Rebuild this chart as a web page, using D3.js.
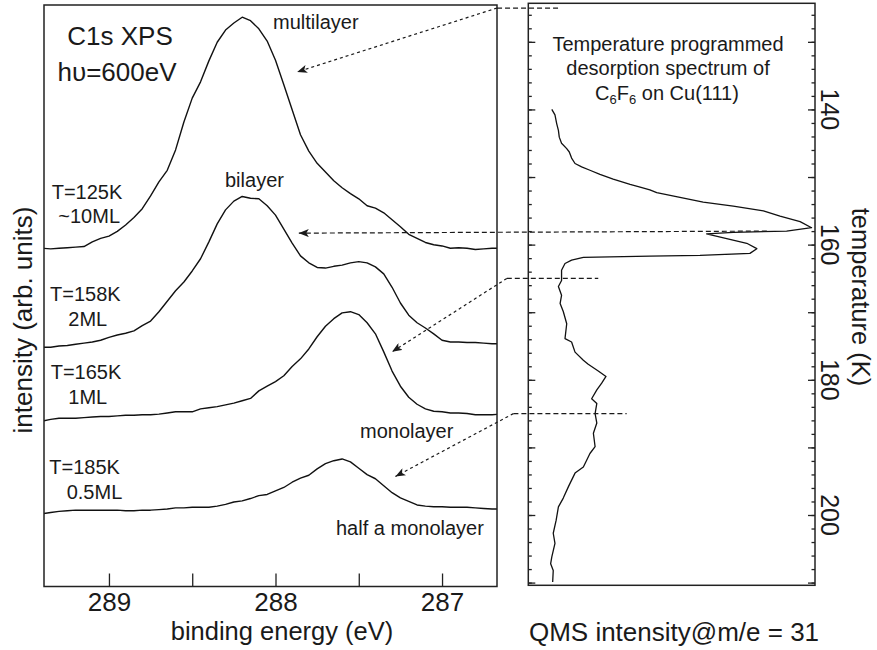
<!DOCTYPE html>
<html>
<head>
<meta charset="utf-8">
<script src="https://cdn.jsdelivr.net/npm/d3@7/dist/d3.min.js"></script>
<style>
  body { margin: 0; background: #fff; }
  text { font-family: "Liberation Sans", Arial, Helvetica, sans-serif; fill: #1a1a1a; }
</style>
</head>
<body>
<svg id="chart" width="877" height="650"></svg>
<script>
// C1s XPS spectra, binding energy grid (eV)
const bindingEnergy = [289.40, 289.35, 289.30, 289.25, 289.20, 289.15, 289.10, 289.05, 289.00, 288.95,
  288.90, 288.85, 288.80, 288.75, 288.70, 288.65, 288.60, 288.55, 288.50, 288.45,
  288.40, 288.35, 288.30, 288.25, 288.20, 288.15, 288.10, 288.05, 288.00, 287.95,
  287.90, 287.85, 287.80, 287.75, 287.70, 287.65, 287.60, 287.55, 287.50, 287.45,
  287.40, 287.35, 287.30, 287.25, 287.20, 287.15, 287.10, 287.05, 287.00, 286.95,
  286.90, 286.85, 286.80, 286.75, 286.70, 286.65];

// intensities (arb. units, stacked with offsets)
const multilayer = [58.2, 58.1, 58.2, 58.3, 58.4, 58.5, 59.3, 59.9, 60.3, 61.1,
  62.2, 63.5, 65.0, 67.2, 69.6, 71.6, 75.1, 79.9, 84.0, 86.8,
  90.4, 93.6, 95.7, 96.9, 97.9, 97.3, 95.9, 93.8, 90.5, 86.3,
  82.0, 77.7, 74.9, 72.8, 71.3, 69.8, 68.6, 67.6, 66.7, 65.5,
  65.1, 64.3, 63.1, 61.9, 60.6, 59.9, 59.2, 58.8, 58.6, 58.2,
  58.3, 58.2, 58.0, 58.1, 58.2, 58.2];
const bilayer = [41.2, 41.2, 41.4, 41.5, 41.7, 41.9, 42.1, 42.4, 42.9, 43.3,
  43.6, 44.0, 44.9, 45.7, 47.3, 49.1, 50.9, 52.4, 54.3, 56.4,
  59.3, 62.4, 64.8, 66.3, 67.1, 66.8, 66.7, 65.5, 63.9, 61.5,
  59.1, 56.9, 55.7, 54.9, 54.8, 55.1, 55.3, 55.7, 55.9, 55.7,
  55.0, 53.8, 51.5, 48.8, 46.7, 45.4, 44.5, 43.5, 42.4, 42.1,
  42.1, 42.0, 42.0, 41.9, 41.8, 41.8];
const monolayer = [28.5, 28.8, 29.0, 29.0, 29.0, 29.1, 29.2, 29.3, 29.3, 29.4,
  29.5, 29.5, 29.6, 29.6, 29.7, 29.9, 30.1, 30.1, 30.1, 30.6,
  30.8, 31.0, 31.3, 31.6, 32.0, 32.4, 33.7, 34.5, 35.3, 36.3,
  37.9, 39.2, 40.9, 43.0, 44.8, 46.1, 47.1, 47.3, 46.8, 45.4,
  43.5, 40.4, 37.1, 34.5, 32.6, 31.4, 30.6, 30.2, 30.1, 29.9,
  29.9, 29.8, 29.6, 29.6, 29.6, 29.7];
const halfMonolayer = [12.6, 12.8, 13.0, 13.1, 13.2, 13.2, 13.2, 13.2, 13.2, 13.2,
  13.1, 13.1, 13.2, 13.2, 13.3, 13.4, 13.6, 13.6, 13.7, 13.7,
  13.7, 13.9, 14.2, 14.6, 14.8, 15.2, 15.7, 15.9, 16.5, 17.1,
  18.0, 18.7, 19.2, 20.3, 21.2, 21.7, 22.0, 21.5, 20.4, 19.3,
  18.6, 17.4, 16.2, 15.3, 14.7, 14.1, 13.9, 13.8, 13.8, 13.7,
  13.7, 13.7, 13.6, 13.5, 13.4, 13.4];

const energyTicks = [289, 288.5, 288, 287.5, 287];
const energyLabels = [289, 288, 287];

// TPD spectrum: temperature (K) vs QMS intensity (arb. units)
const tpdTemperature = [140.0, 140.8, 142.1, 143.1, 144.1, 145.0, 145.8, 146.3, 147.2, 148.0,
  148.5, 149.0, 149.6, 150.3, 151.1, 151.5, 151.9, 152.3, 153.0, 153.7,
  154.3, 155.0, 155.8, 156.6, 157.5, 158.0, 158.2, 158.4, 159.1, 159.8,
  160.6, 161.3, 161.6, 161.7, 161.9, 162.3, 162.8, 163.8, 165.3, 166.2,
  167.5, 168.7, 169.9, 171.7, 173.9, 174.4, 175.9, 177.1, 177.7, 178.7,
  179.5, 180.5, 181.5, 182.8, 183.5, 185.0, 186.4, 187.9, 189.9, 190.9,
  192.9, 193.8, 195.8, 197.5, 198.8, 200.8, 202.7, 204.2, 206.2, 207.2,
  208.2, 209.9];
const tpdIntensity = [8.2, 9.3, 9.9, 10.5, 10.8, 11.6, 13.4, 14.3, 15.1, 16.3,
  18.6, 21.5, 25.0, 29.6, 35.5, 39.0, 42.4, 44.8, 52.9, 61.0,
  71.5, 82.0, 87.8, 94.8, 98.8, 90.1, 71.5, 62.2, 69.2, 76.2,
  79.7, 77.3, 59.9, 42.4, 19.2, 15.1, 12.8, 11.6, 11.6, 10.5,
  11.6, 11.1, 12.2, 13.4, 12.8, 15.1, 16.3, 19.2, 20.9, 24.4,
  27.1, 25.6, 23.9, 22.1, 23.9, 23.3, 23.9, 22.7, 23.3, 21.5,
  19.2, 16.3, 14.0, 12.2, 10.5, 9.7, 8.7, 9.3, 8.2, 7.8,
  8.7, 8.5];

const tempLabels = [140, 160, 180, 200];
const tempMajor = [130, 140, 150, 160, 170, 180, 190, 200, 210];
const tempMinor = d3.range(126, 211, 2);

// links between TPD temperatures and XPS spectra
const markTemp = [125, 158, 165, 185];
const markEnd = [11.0, 83.2, 24.4, 34.3];      // right end of dashed line (QMS units)
const markKink = [-10.9, null, -7.5, -5.2];    // where the dotted arrow leaves (QMS units)
const tipEnergy = [287.87, 287.86, 287.30, 287.28];
const tipIntensity = [88.5, 60.8, 40.4, 19.0];

const svg = d3.select("#chart");

const xE = d3.scaleLinear().domain([289.39, 286.67]).range([44, 497]);
const yI = d3.scaleLinear().domain([0, 100]).range([587, 5]);
const xQ = d3.scaleLinear().domain([0, 100]).range([528.3, 815]);
const yT = d3.scaleLinear().domain([124.3, 210.4]).range([3.3, 585.3]);

const defs = svg.append("defs");
defs.append("clipPath").attr("id", "clipL")
  .append("rect").attr("x", 44).attr("y", 5).attr("width", 453).attr("height", 582);
defs.append("marker")
  .attr("id", "arrow")
  .attr("markerUnits", "userSpaceOnUse")
  .attr("viewBox", "0 0 10 8")
  .attr("refX", 10).attr("refY", 4)
  .attr("markerWidth", 10).attr("markerHeight", 8)
  .attr("orient", "auto")
  .append("path")
  .attr("d", "M0,0 L10,4 L0,8 L2.5,4 Z")
  .attr("fill", "#1a1a1a");

// ---- left panel: XPS
const spectra = [multilayer, bilayer, monolayer, halfMonolayer];
const line = d3.line()
  .x((d, i) => xE(bindingEnergy[i]))
  .y(d => yI(d));

svg.append("g").attr("clip-path", "url(#clipL)")
  .selectAll("path").data(spectra).join("path")
  .attr("d", line)
  .attr("fill", "none")
  .attr("stroke", "#111")
  .attr("stroke-width", 1.4)
  .attr("stroke-linejoin", "round");

const axE = svg.append("g")
  .attr("transform", "translate(0,586.5)")
  .call(d3.axisBottom(xE).tickValues(energyTicks).tickSize(-13).tickPadding(6)
    .tickFormat(d => energyLabels.includes(d) ? d : ""));
axE.select(".domain").remove();
axE.selectAll("line").attr("stroke", "#222").attr("stroke-width", 1.3);
axE.selectAll("text").attr("font-size", 26).attr("fill", "#1a1a1a")
  .attr("font-family", "'Liberation Sans', Arial, sans-serif");

svg.append("rect").attr("x", 44).attr("y", 5).attr("width", 453).attr("height", 581.5)
  .attr("fill", "none").attr("stroke", "#222").attr("stroke-width", 1.5);

svg.append("text").attr("x", 282).attr("y", 640).attr("text-anchor", "middle")
  .attr("font-size", 25.5).text("binding energy (eV)");
svg.append("text").attr("transform", "translate(32,320) rotate(-90)")
  .attr("text-anchor", "middle").attr("font-size", 26).text("intensity (arb. units)");

svg.append("text").attr("x", 120).attr("y", 44.5).attr("text-anchor", "middle")
  .attr("font-size", 26).text("C1s XPS");
svg.append("text").attr("x", 117).attr("y", 80.7).attr("text-anchor", "middle")
  .attr("font-size", 26).text("h\u03C5=600eV");

const leftLabels = [
  ["T=125K", 51.7, 199.3], ["~10ML", 58.3, 222.6],
  ["T=158K", 50, 301], ["2ML", 68.3, 326],
  ["T=165K", 50.7, 379.3], ["1ML", 68.3, 404.3],
  ["T=185K", 49.3, 474.3], ["0.5ML", 66.7, 499.3],
  ["multilayer", 273, 29.3], ["bilayer", 225, 187],
  ["monolayer", 360, 438.3], ["half a monolayer", 336, 535]
];
svg.append("g").selectAll("text").data(leftLabels).join("text")
  .attr("x", d => d[1]).attr("y", d => d[2])
  .attr("font-size", 20).text(d => d[0]);

// ---- right panel: TPD
const tpdLine = d3.line()
  .x((d, i) => xQ(tpdIntensity[i]))
  .y(d => yT(d));
svg.append("path").datum(tpdTemperature)
  .attr("d", tpdLine)
  .attr("fill", "none").attr("stroke", "#111").attr("stroke-width", 1.3)
  .attr("stroke-linejoin", "round");

function tickSet(axis, x, values, size) {
  const g = svg.append("g").attr("transform", `translate(${x},0)`)
    .call(axis(yT).tickValues(values).tickSize(size).tickFormat(""));
  g.select(".domain").remove();
  g.selectAll("line").attr("stroke", "#222").attr("stroke-width", 1.3);
}
tickSet(d3.axisRight, 528.3, tempMinor, 3.5);
tickSet(d3.axisRight, 528.3, tempMajor, 7);
tickSet(d3.axisLeft, 815, tempMinor, 3.5);
tickSet(d3.axisLeft, 815, tempMajor, 7);

svg.append("rect").attr("x", 528.3).attr("y", 3.3).attr("width", 286.7).attr("height", 582)
  .attr("fill", "none").attr("stroke", "#222").attr("stroke-width", 1.5);

svg.append("g").selectAll("text").data(tempLabels).join("text")
  .attr("transform", d => `translate(821,${yT(d)}) rotate(90)`)
  .attr("text-anchor", "middle").attr("font-size", 25).text(d => d);

svg.append("text").attr("transform", "translate(852,297) rotate(90)")
  .attr("text-anchor", "middle").attr("font-size", 25.5).text("temperature (K)");

svg.append("text").attr("x", 674).attr("y", 641).attr("text-anchor", "middle")
  .attr("font-size", 26).text("QMS intensity@m/e = 31");

const tpdTitle = ["Temperature programmed", "desorption spectrum of"];
svg.append("g").selectAll("text").data(tpdTitle).join("text")
  .attr("x", 668).attr("y", (d, i) => 50.7 + i * 24.5)
  .attr("text-anchor", "middle").attr("font-size", 20).text(d => d);
const t3 = svg.append("text").attr("x", 667).attr("y", 100)
  .attr("text-anchor", "middle").attr("font-size", 20);
t3.append("tspan").text("C");
t3.append("tspan").attr("font-size", 13).attr("dy", 4).text("6");
t3.append("tspan").attr("dy", -4).text("F");
t3.append("tspan").attr("font-size", 13).attr("dy", 4).text("6");
t3.append("tspan").attr("dy", -4).text(" on Cu(111)");

// ---- dashed links
const links = svg.append("g").attr("fill", "none").attr("stroke", "#1a1a1a").attr("stroke-width", 1.2);
markTemp.forEach((t, i) => {
  const y = yT(t);
  const tipX = xE(tipEnergy[i]), tipY = yI(tipIntensity[i]);
  if (markKink[i] === null) {
    links.append("line")
      .attr("x1", xQ(markEnd[i])).attr("y1", y).attr("x2", tipX).attr("y2", tipY)
      .attr("stroke-dasharray", "5,3").attr("marker-end", "url(#arrow)");
  } else {
    const kx = xQ(markKink[i]);
    links.append("line")
      .attr("x1", kx).attr("y1", y).attr("x2", xQ(markEnd[i])).attr("y2", y)
      .attr("stroke-dasharray", "5,3");
    links.append("line")
      .attr("x1", kx).attr("y1", y).attr("x2", tipX).attr("y2", tipY)
      .attr("stroke-dasharray", "3,3").attr("marker-end", "url(#arrow)");
  }
});
</script>
</body>
</html>
